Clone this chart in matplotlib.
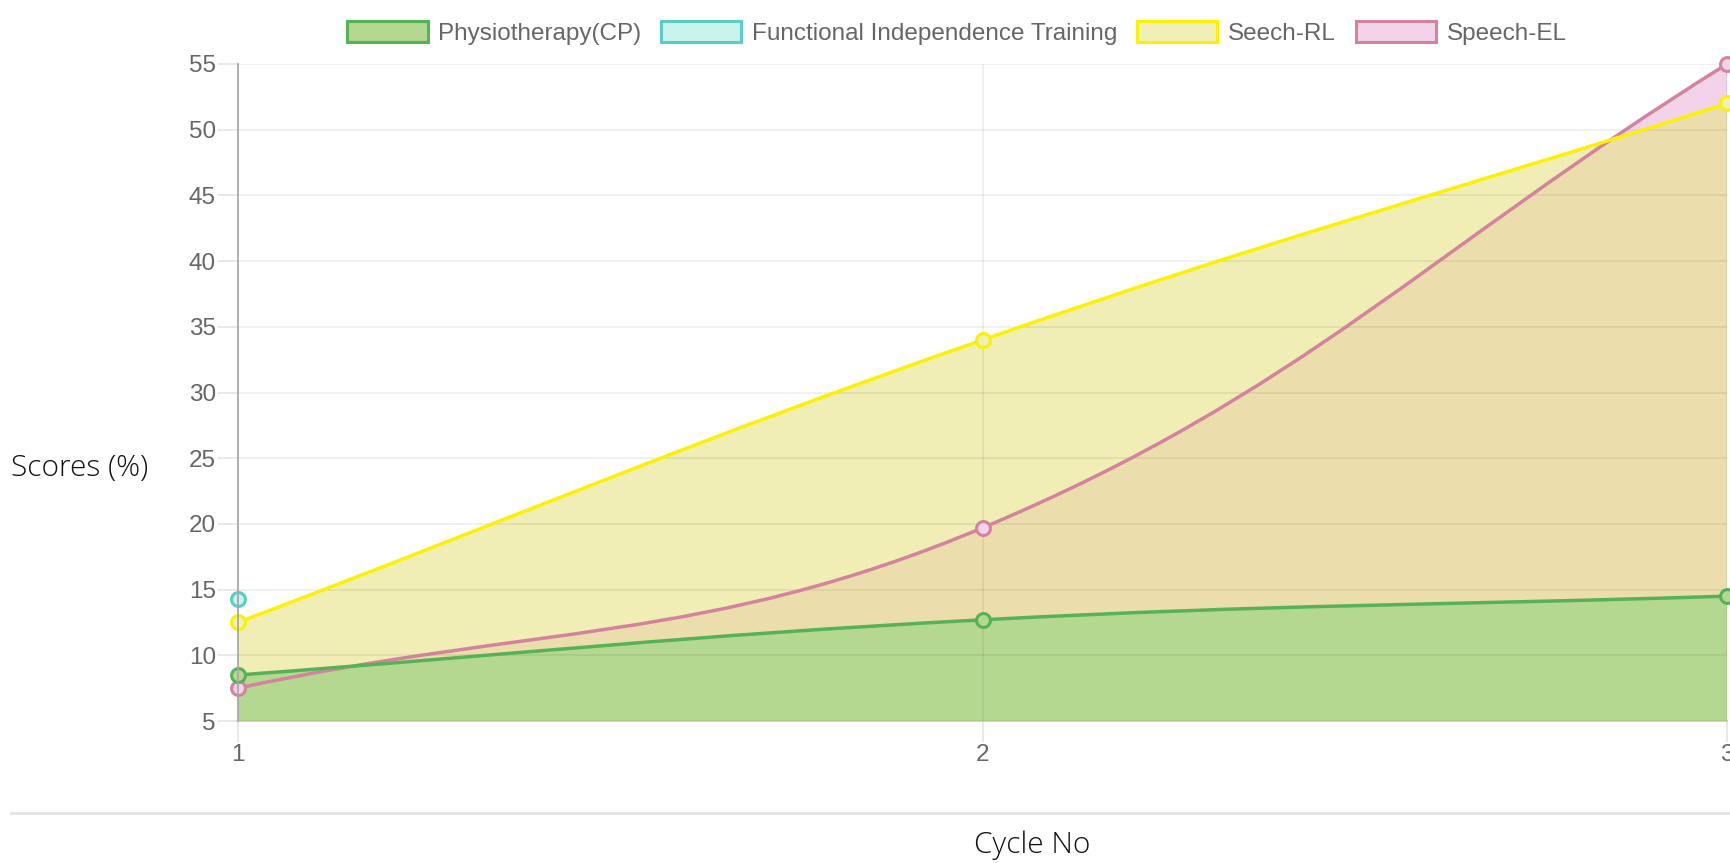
import matplotlib
matplotlib.use("Agg")
import matplotlib.pyplot as plt
import numpy as np
from matplotlib.path import Path
from matplotlib.patches import PathPatch, Patch
from matplotlib.lines import Line2D

# data
cycles = [1, 2, 3]
series_names = ["Physiotherapy(CP)", "Functional Independence Training",
                "Seech-RL", "Speech-EL"]
physio = [8.5, 12.7, 14.5]
fit = [14.3]
speech_rl = [12.5, 34.0, 52.0]
speech_el = [7.5, 19.7, 55.0]

y_ticks = list(range(5, 60, 5))

# styles
line_colors = ["#57b257", "#5ccdc2", "#fbf200", "#d4839f"]
face_colors = ["#b4d890", "#c9f3ee", "#f0efb5", "#f3d3ea"]
grid_col = "#e4e4e4"
text_col = "#666666"

W, H = 1730, 863
fig = plt.figure(figsize=(W / 100, H / 100), dpi=100)
ax_l, ax_r, ax_t, ax_b = 238, 1727, 64, 721
ax = fig.add_axes([ax_l / W, 1 - ax_b / H, (ax_r - ax_l) / W, (ax_b - ax_t) / H])
ax.set_xlim(1, 3)
ax.set_ylim(5, 55)

px_x = (ax_r - ax_l) / 2.0
px_y = (ax_b - ax_t) / 50.0


def spline_path(xs, ys, tension=0.4):
    """Bezier path through the points, chart.js style control points."""
    pts = np.column_stack([(np.array(xs) - 1) * px_x, (np.array(ys) - 5) * px_y])
    n = len(pts)
    cp_prev = pts.copy()
    cp_next = pts.copy()
    for i in range(n):
        prev = pts[max(i - 1, 0)]
        nxt = pts[min(i + 1, n - 1)]
        d01 = np.hypot(*(pts[i] - prev))
        d12 = np.hypot(*(nxt - pts[i]))
        tot = d01 + d12
        s01 = d01 / tot if tot else 0
        s12 = d12 / tot if tot else 0
        cp_prev[i] = pts[i] - tension * s01 * (nxt - prev)
        cp_next[i] = pts[i] + tension * s12 * (nxt - prev)
    verts = [pts[0]]
    codes = [Path.MOVETO]
    for i in range(n - 1):
        verts += [cp_next[i], cp_prev[i + 1], pts[i + 1]]
        codes += [Path.CURVE4] * 3
    verts = np.array(verts)
    verts[:, 0] = verts[:, 0] / px_x + 1
    verts[:, 1] = verts[:, 1] / px_y + 5
    return verts, codes


def draw_series(ys, idx, fill_col, fill_alpha, z):
    verts, codes = spline_path(cycles[:len(ys)], ys)
    # filled area down to the bottom of the axis
    fverts = list(verts) + [(cycles[len(ys) - 1], 5), (cycles[0], 5), verts[0]]
    fcodes = list(codes) + [Path.LINETO, Path.LINETO, Path.CLOSEPOLY]
    ax.add_patch(PathPatch(Path(fverts, fcodes), facecolor=fill_col, edgecolor="none",
                           alpha=fill_alpha, zorder=z))
    ax.add_patch(PathPatch(Path(verts, codes), facecolor="none",
                           edgecolor=line_colors[idx], linewidth=2.5,
                           zorder=z + 10, capstyle="round"))
    ax.plot(cycles[:len(ys)], ys, "o", markersize=10,
            markerfacecolor=face_colors[idx],
            markeredgecolor=line_colors[idx], markeredgewidth=2.2, zorder=z + 20,
            clip_on=False)


draw_series(speech_el, 3, face_colors[3], 1.0, 1)
# yellow fill translucent over pink so the overlap turns orange
draw_series(speech_rl, 2, "#e6e484", 0.6, 2)
draw_series(physio, 0, face_colors[0], 1.0, 3)
ax.plot(cycles[:1], fit, "o", markersize=10, markerfacecolor=face_colors[1],
        markeredgecolor=line_colors[1], markeredgewidth=2.2, zorder=30, clip_on=False)

# grid drawn faintly over the fills
for y in y_ticks:
    ax.axhline(y, color=(0, 0, 0, 0.07), linewidth=1.2, zorder=5)
for x in [2, 3]:
    ax.axvline(x, color=(0, 0, 0, 0.07), linewidth=1.2, zorder=5)

for s in ["top", "right"]:
    ax.spines[s].set_visible(False)
ax.spines["left"].set_color("#a8a8a8")
ax.spines["left"].set_linewidth(1.3)
ax.spines["left"].set_zorder(40)
ax.spines["bottom"].set_color("#d0d0d0")
ax.spines["bottom"].set_linewidth(1.3)

ax.set_yticks(y_ticks)
ax.set_xticks(cycles)
ax.tick_params(axis="y", length=14.5, width=1.2, color=grid_col, pad=1.5,
               labelsize=17.5, labelcolor=text_col)
ax.tick_params(axis="x", length=15, width=1.2, color=grid_col, pad=1.5,
               labelsize=17.5, labelcolor=text_col)
for lbl in ax.get_xticklabels() + ax.get_yticklabels():
    lbl.set_fontfamily("Liberation Sans")
ax.get_xticklines()[0].set_color("#a8a8a8")

# legend
handles = [Patch(facecolor=face_colors[i], edgecolor=line_colors[i], linewidth=2.2)
           for i in range(4)]
fig.legend(handles, series_names, loc="center", ncol=4,
           bbox_to_anchor=(957 / W, 1 - 33 / H), frameon=False,
           prop={"family": "Liberation Sans", "size": 17.5},
           labelcolor=text_col, handlelength=3.3, handleheight=0.95,
           handletextpad=0.45, columnspacing=0.8)

fig.text(11 / W, 1 - 468 / H, "Scores (%)", ha="left", va="center",
         fontsize=21.5, family="Open Sans", fontweight="light", color="#111111")
fig.text(1032 / W, 1 - 845 / H, "Cycle No", ha="center", va="center",
         fontsize=21.5, family="Open Sans", fontweight="light", color="#111111")
fig.add_artist(Line2D([11 / W, 1.0], [1 - 813 / H, 1 - 813 / H],
                      color="#e2e2e2", linewidth=2))

fig.savefig("out.png", dpi=100)
